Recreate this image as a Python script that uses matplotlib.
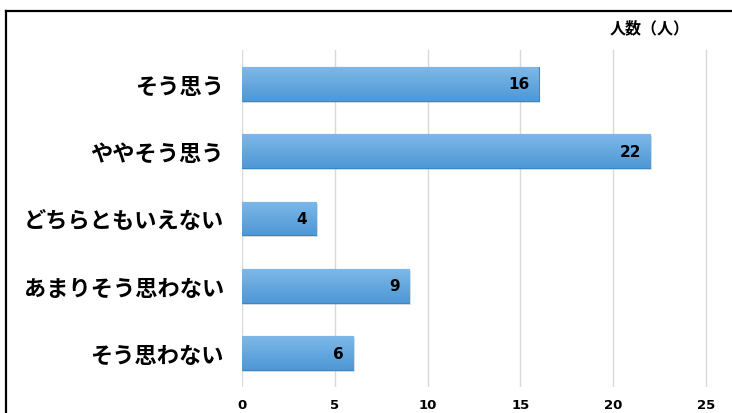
import numpy as np
import matplotlib
matplotlib.use("Agg")
import matplotlib.pyplot as plt
from matplotlib.lines import Line2D

plt.rcParams['font.family'] = ['Noto Sans CJK JP', 'DejaVu Sans']

categories = ["そう思う", "ややそう思う", "どちらともいえない", "あまりそう思わない", "そう思わない"]
counts = [16, 22, 4, 9, 6]
xticks = [0, 5, 10, 15, 20, 25]
unit_label = "人数（人）"

fig = plt.figure(figsize=(7.32, 4.14), dpi=100)
ax = fig.add_axes([242 / 732, 1 - 388 / 414, 477 / 732, 337 / 414])

ypos = np.arange(len(categories))
bars = ax.barh(ypos, counts, height=0.5, color="#5fa5de",
               edgecolor="#3d86c4", linewidth=0.8, zorder=3)

# soft vertical gradient inside each bar
grad = np.linspace(0, 1, 64).reshape(-1, 1)
cmap = matplotlib.colors.LinearSegmentedColormap.from_list(
    "bar", ["#7db8e8", "#4e98d6"])
for b in bars:
    x0, y0 = b.get_x(), b.get_y()
    w, h = b.get_width(), b.get_height()
    im = ax.imshow(grad, cmap=cmap, aspect="auto", zorder=3.5,
                   extent=[x0, x0 + w, y0 + h, y0], interpolation="bicubic")
    im.set_clip_path(b)
    # thin shadow under the bar
    ax.barh(y0 + h / 2 + 0.03, w, height=h, left=x0 + 0.08,
            color="#9aa6b2", alpha=0.35, zorder=2.5, linewidth=0)

for y, v in zip(ypos, counts):
    ax.text(v - 0.5, y, str(v), ha="right", va="center",
            fontsize=11, fontweight="bold", color="black", zorder=5,
            family="DejaVu Sans")

ax.set_xlim(0, 25.7)
ax.set_ylim(len(categories) - 0.5, -0.5)
ax.set_xticks(xticks)
ax.set_xticklabels([str(t) for t in xticks], fontsize=9.5, fontweight="bold",
                   family="DejaVu Sans")
ax.set_yticks(ypos)
ax.set_yticklabels(categories, fontsize=16, fontweight="bold")
ax.tick_params(axis="both", length=0)
ax.tick_params(axis="y", pad=13)
ax.tick_params(axis="x", pad=8)
ax.xaxis.grid(True, color="#d9d9d9", linewidth=1, zorder=0)
ax.set_axisbelow(True)
for s in ax.spines.values():
    s.set_visible(False)

fig.text(690 / 732, 1 - 28 / 414, unit_label, ha="right", va="center",
         fontsize=11.5, fontweight="bold")

# outer frame (top and left edges visible)
fig.add_artist(Line2D([6 / 732, 1.0], [1 - 12 / 414, 1 - 12 / 414],
                      transform=fig.transFigure, color="black", linewidth=1.6))
fig.add_artist(Line2D([6 / 732, 6 / 732], [0.0, 1 - 12 / 414],
                      transform=fig.transFigure, color="black", linewidth=1.6))

fig.savefig("out.png", dpi=100)
